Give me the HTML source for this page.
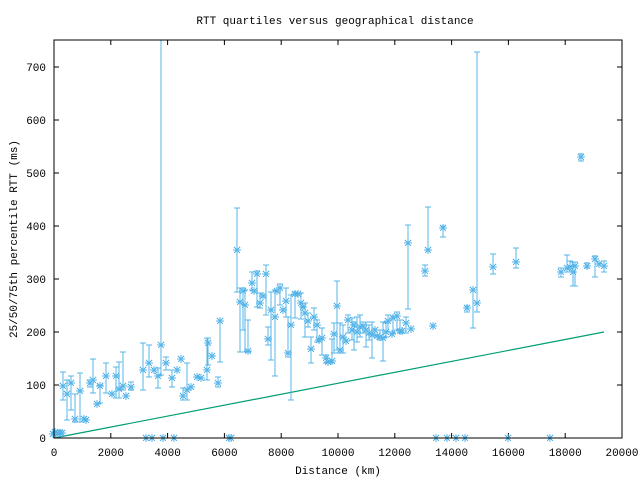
<!DOCTYPE html>
<html><head><meta charset="utf-8"><style>
html,body{margin:0;padding:0;background:#fff;}
svg{display:block;font-family:"Liberation Mono","DejaVu Sans Mono",monospace;font-size:11px;}
</style></head><body>
<svg id="s" width="640" height="480" xmlns="http://www.w3.org/2000/svg">
<rect width="640" height="480" fill="#fff"/>
<text x="335" y="24" text-anchor="middle">RTT quartiles versus geographical distance</text>
<text x="338" y="474" text-anchor="middle">Distance (km)</text>
<text transform="translate(17,239) rotate(-90)" text-anchor="middle">25/50/75th percentile RTT (ms)</text>
<g id="ax"></g>
<polyline points="54,438 604,332" fill="none" stroke="#009e73" stroke-width="1.2"/>
<g id="pts" stroke="#56b4e9" stroke-width="1" fill="none" shape-rendering="crispEdges"></g>
<rect x="54" y="40" width="568" height="398" fill="none" stroke="#000" stroke-width="1"/>
</svg>
<script>
var NS="http://www.w3.org/2000/svg",ax=document.getElementById("ax"),pts=document.getElementById("pts");
function el(p,t,a,txt){var e=document.createElementNS(NS,t);for(var k in a)e.setAttribute(k,a[k]);if(txt!==undefined)e.textContent=txt;p.appendChild(e);return e;}
for(var i=0;i<=10;i++){var x=54+i*56.8;el(ax,"line",{x1:x,y1:438,x2:x,y2:433,stroke:"#000"});el(ax,"line",{x1:x,y1:40,x2:x,y2:45,stroke:"#000"});el(ax,"text",{x:x,y:456,"text-anchor":"middle"},String(i*2000));}
for(var j=0;j<=7;j++){var y=438-j*53;el(ax,"line",{x1:54,y1:y,x2:59,y2:y,stroke:"#000"});el(ax,"line",{x1:622,y1:y,x2:617,y2:y,stroke:"#000"});el(ax,"text",{x:46,y:y+4,"text-anchor":"end"},String(j*100));}
var d=[[53,434],[56,434],[60,433],[62,433],[55,432],[58,433],[63,386,372,400],[67,394,380,420],[71,383,376,410],[75,419,394,422],[80,391,373,422],[84,419],[86,420],[90,383,380,387],[93,380,359,393],[97,404],[100,386,385,403],[106,376,363,393],[112,394],[116,376,367,398],[119,389,362,398],[123,386,352,390],[126,396],[131,387,382,390],[143,370,343,390],[149,363,345,377],[154,370],[158,376,368,388],[161,345,40,375],[166,363,357,370],[172,378,370,387],[177,370],[181,359],[183,396,388,400],[187,390,363,400],[191,387],[197,377],[201,378],[207,370,338,380],[208,343,338,365],[212,356],[218,383,377,387],[220,321,321,362],[146,438],[152,438],[163,438],[174,438],[229,438],[231,438],
[237,250,208,292],[240,302,288,352],[243,291,288,330],[245,305,290,352],[248,351,320,352],[252,283,272,290],[254,291],[257,274,271,307],[260,303,293,308],[263,296],[266,274,265,315],[268,339,327,345],[271,310,292,360],[275,317,290,376],[277,291],[280,288,284,305],[283,310],[286,301,288,317],[288,353,317,357],[291,325,295,400],[295,294,292,318],[298,294],[301,303,293,319],[303,307],[305,313,303,337],[308,321,313,327],[311,349,337,363],[314,317,308,330],[317,325,320,342],[319,340],[322,338,328,355],[326,358,355,363],[328,362],[332,361,339,363],[334,334,323,353],[337,306,281,350],[340,350,323,353],[343,337,325,353],[346,341],[348,320,315,333],[352,330,318,340],[354,325,322,350],[357,332,317,342],[360,327,315,337],[363,326,322,333],[366,330,322,347],[369,333,325,340],[372,335,322,358],[375,330],[377,336],[380,337,330,340],[383,338,322,361],[386,332,323,337],[388,321,315,332],[392,334],[393,318,316,333],[397,316,312,330],[400,331,320,333],[402,331],[406,323,317,333],[408,243,225,309],[411,329],
[425,271,265,276],[428,250,207,250],[433,326],[443,228,226,237],[436,438],[447,438],[456,438],[465,438],[467,308,306,312],[473,290,290,328],[477,303,52,312],[493,267,254,274],[508,438],[516,262,248,268],[550,438],
[561,272,268,277],[567,268,255,272],[570,267,261,272],[573,272,262,286],[575,266,262,286],[581,157,154,161],[587,266,263,268],[595,259,256,277],[599,264],[604,266,261,272]];
d.forEach(function(p){var x=p[0],y=p[1];
if(p.length>2){el(pts,"line",{x1:x,y1:p[2],x2:x,y2:p[3]});el(pts,"line",{x1:x-3,y1:p[2],x2:x+3,y2:p[2]});el(pts,"line",{x1:x-3,y1:p[3],x2:x+3,y2:p[3]});}
el(pts,"path",{d:"M"+(x-4)+" "+y+"h8M"+x+" "+(y-4)+"v8M"+(x-3)+" "+(y-3)+"l6 6M"+(x-3)+" "+(y+3)+"l6 -6"});});
</script>
</body></html>
